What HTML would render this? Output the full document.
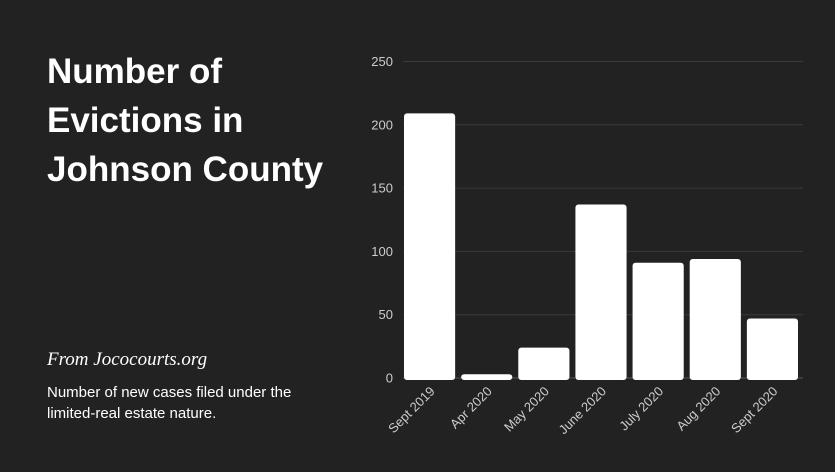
<!DOCTYPE html>
<html><head><meta charset="utf-8"><style>
body{margin:0;background:#222222;width:835px;height:467px;overflow:hidden;font-family:"Liberation Sans",sans-serif;}
</style></head><body>
<svg width="835" height="467" viewBox="0 0 835 467">
<rect width="835" height="467" fill="#222222"/>
<g fill="#ffffff" font-family="Liberation Sans, sans-serif" font-weight="bold" font-size="35">
<text x="47" y="83">Number of</text>
<text x="47" y="132">Evictions in</text>
<text x="47" y="181">Johnson County</text>
</g>
<text x="47" y="365" fill="#ffffff" font-size="19" font-style="italic" font-family="Liberation Serif, serif">From Jococourts.org</text>
<text x="47" y="397" fill="#ffffff" font-size="15">Number of new cases filed under the</text>
<text x="47" y="418" fill="#ffffff" font-size="15">limited-real estate nature.</text>
<g id="grid"></g><g id="bars"></g><g id="yl"></g><g id="xl"></g>
</svg>
<script>
const categories=["Sept 2019","Apr 2020","May 2020","June 2020","July 2020","Aug 2020","Sept 2020"];
const values=[209,3,24,137,91,94,47];
const yTicks=[0,50,100,150,200,250];
const NS="http://www.w3.org/2000/svg";
const x0=403,x1=803,yb=378,yt=61.5,ymax=250;
const band=(x1-x0)/categories.length;
function y(v){return yb-(v/ymax)*(yb-yt);}
function xs(i){return x0+i*band;}
const grid=document.getElementById('grid'),bars=document.getElementById('bars'),yl=document.getElementById('yl'),xl=document.getElementById('xl');
yTicks.forEach(t=>{
 const l=document.createElementNS(NS,'line');
 
 
 l.setAttribute('x1',x0);l.setAttribute('x2',x1);l.setAttribute('y1',y(t));l.setAttribute('y2',y(t));
 l.setAttribute('stroke',t===0?'#555':'#3a3a3a');l.setAttribute('stroke-width','1');
 grid.appendChild(l);
 const tx=document.createElementNS(NS,'text');
 
 
 tx.setAttribute('x',393);tx.setAttribute('y',y(t)+4.5);tx.setAttribute('text-anchor','end');
 tx.setAttribute('fill','#cccccc');tx.setAttribute('font-size','13');tx.textContent=t;
 yl.appendChild(tx);
});
values.forEach((v,i)=>{
 const r=document.createElementNS(NS,'rect');
 
 
 const w=band-6;
 r.setAttribute('x',xs(i)+1);r.setAttribute('width',w);
 r.setAttribute('y',y(v));r.setAttribute('height',yb-y(v)+2);
 r.setAttribute('rx',3);r.setAttribute('fill','#ffffff');
 bars.appendChild(r);
 const t=document.createElementNS(NS,'text');
 
 
 const cx=xs(i)+band/2+4;
 t.setAttribute('x',cx);t.setAttribute('y',392);t.setAttribute('text-anchor','end');
 t.setAttribute('transform','rotate(-45 '+cx+' 392)');
 t.setAttribute('fill','#cccccc');t.setAttribute('font-size','13');t.textContent=categories[i];
 xl.appendChild(t);
});
</script>
</body></html>
